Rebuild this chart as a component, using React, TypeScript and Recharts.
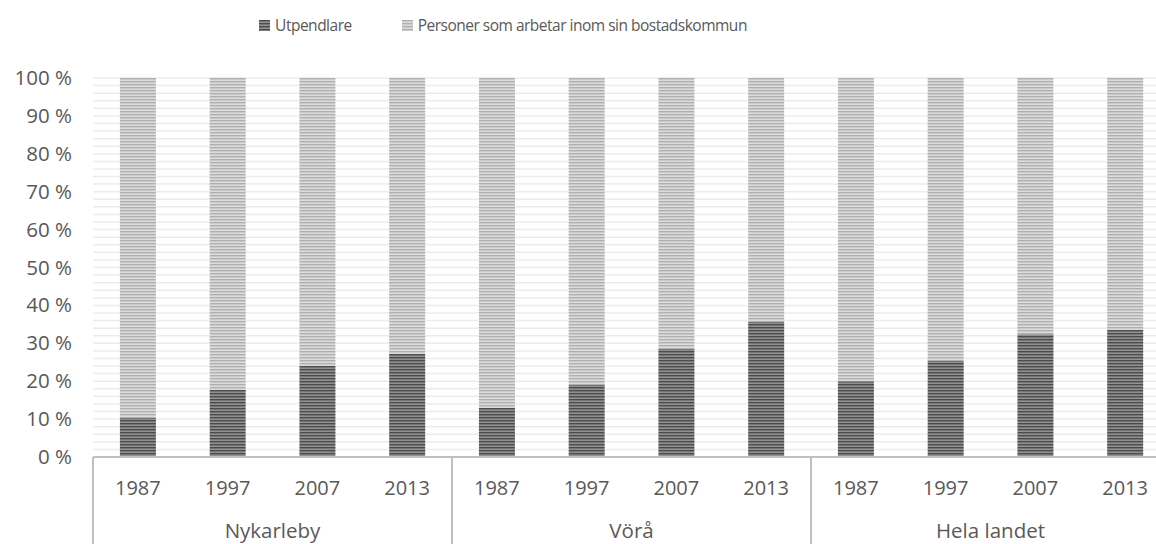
import { BarChart, Bar, XAxis, YAxis, CartesianGrid, Legend } from "recharts";

const groups = ["Nykarleby", "Vörå", "Hela landet"];
const years = ["1987", "1997", "2007", "2013"];

// andel utpendlare i procent, per år
const nykarlebyUtpendlare = [10.3, 17.7, 24.0, 27.2];
const voraUtpendlare = [12.9, 19.0, 28.5, 35.6];
const helaLandetUtpendlare = [20.0, 25.3, 32.4, 33.5];

const yTicks = [0, 10, 20, 30, 40, 50, 60, 70, 80, 90, 100];
const gridValues = Array.from({ length: 51 }, (_, i) => i * 2);

const seriesNames = {
  ut: "Utpendlare",
  in: "Personer som arbetar inom sin bostadskommun",
};

const groupValues = [nykarlebyUtpendlare, voraUtpendlare, helaLandetUtpendlare];

const data = groups.flatMap((group, gi) =>
  years.map((year, yi) => ({
    group,
    year,
    ut: groupValues[gi][yi],
    in: 100 - groupValues[gi][yi],
  }))
);

const W = 1172;
const H = 544;
const MARGIN = { top: 38, right: 2, left: 0, bottom: 0 };
const Y_AXIS_W = 93;
const YEAR_AXIS_H = 45;
const GROUP_AXIS_H = 42;
const PLOT_BOTTOM = H - YEAR_AXIS_H - GROUP_AXIS_H;
const PLOT_W = W - MARGIN.left - MARGIN.right - Y_AXIS_W;
const GROUP_HALF = PLOT_W / groups.length / 2;

const FONT = "'Open Sans', sans-serif";
const TEXT = "#595959";
const LINE = "#c0c0c0";

function YTick({ y, payload }: any) {
  return (
    <text x={72} y={y} dy={7} textAnchor="end" fill={TEXT} fontSize={20.5} fontFamily={FONT}>
      {payload.value} %
    </text>
  );
}

function YearTick({ x, y, payload }: any) {
  return (
    <text x={x} y={y + 30} textAnchor="middle" fill={TEXT} fontSize={20} fontFamily={FONT}>
      {payload.value}
    </text>
  );
}

function GroupTick({ x, y, payload }: any) {
  return (
    <g>
      <line x1={x - GROUP_HALF} x2={x - GROUP_HALF} y1={PLOT_BOTTOM} y2={H} stroke={LINE} strokeWidth={2} />
      <line x1={x + GROUP_HALF} x2={x + GROUP_HALF} y1={PLOT_BOTTOM} y2={H} stroke={LINE} strokeWidth={2} />
      <text x={x} y={y + 28} textAnchor="middle" fill={TEXT} fontSize={20.5} fontFamily={FONT}>
        {payload.value}
      </text>
    </g>
  );
}

function LegendContent() {
  const items = [
    { key: "ut", fill: "url(#stripeDark)" },
    { key: "in", fill: "url(#stripeLight)" },
  ];
  return (
    <div
      style={{
        height: 40,
        display: "flex",
        justifyContent: "center",
        gap: 50,
        fontFamily: FONT,
        fontSize: 15.5,
        letterSpacing: -0.5,
        color: TEXT,
        paddingTop: 9,
        paddingRight: 150,
        boxSizing: "border-box",
      }}
    >
      {items.map((it) => (
        <div key={it.key} style={{ display: "flex", alignItems: "center", height: 32 }}>
          <svg width={11} height={11} style={{ marginRight: 5 }}>
            <rect width={11} height={11} fill={it.fill} />
          </svg>
          <span>{seriesNames[it.key as "ut" | "in"]}</span>
        </div>
      ))}
    </div>
  );
}

export default function App() {
  return (
    <div style={{ position: "absolute", left: 0, top: 0, width: 1156, height: H, overflow: "hidden", background: "#fff" }}>
      <BarChart width={W} height={H} data={data} margin={MARGIN} barCategoryGap="30%">
        <defs>
          <pattern id="stripeDark" width={4} height={3} patternUnits="userSpaceOnUse">
            <rect width={4} height={3} fill="#909090" />
            <rect width={4} height={1.4} fill="#4c4c4c" />
          </pattern>
          <pattern id="stripeLight" width={4} height={3} patternUnits="userSpaceOnUse">
            <rect width={4} height={3} fill="#dcdcdc" />
            <rect width={4} height={1.4} fill="#b0b0b0" />
          </pattern>
        </defs>
        <CartesianGrid vertical={false} horizontalValues={gridValues} stroke="#ececec" strokeWidth={1.5} />
        <Legend verticalAlign="top" align="center" content={<LegendContent />} wrapperStyle={{ top: 0, left: 0, width: 1156 }} />
        <XAxis
          dataKey="year"
          height={YEAR_AXIS_H}
          interval={0}
          tickLine={false}
          axisLine={{ stroke: LINE, strokeWidth: 2 }}
          tick={<YearTick />}
        />
        <XAxis
          xAxisId="group"
          dataKey="group"
          allowDuplicatedCategory={false}
          height={GROUP_AXIS_H}
          interval={0}
          tickLine={false}
          axisLine={false}
          tick={<GroupTick />}
        />
        <YAxis
          width={Y_AXIS_W}
          domain={[0, 100]}
          ticks={yTicks}
          interval={0}
          axisLine={false}
          tickLine={false}
          tick={<YTick />}
        />
        <Bar dataKey="ut" name={seriesNames.ut} stackId="a" fill="url(#stripeDark)" isAnimationActive={false} />
        <Bar dataKey="in" name={seriesNames.in} stackId="a" fill="url(#stripeLight)" isAnimationActive={false} />
      </BarChart>
    </div>
  );
}
